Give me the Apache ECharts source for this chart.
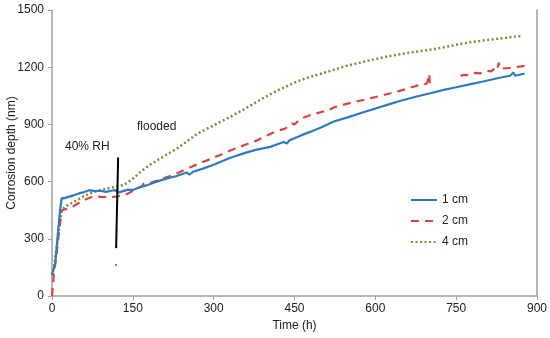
<!DOCTYPE html>
<html><head><meta charset="utf-8">
<script src="https://cdn.jsdelivr.net/npm/echarts@6/dist/echarts.min.js"></script>
<style>html,body{margin:0;padding:0;background:#fff}#c{width:550px;height:338px}</style>
</head><body><div id="c"></div>
<script>
const seriesNames = ['1 cm', '2 cm', '4 cm'];
const xTicks = [0, 150, 300, 450, 600, 750, 900];
const yTicks = [0, 300, 600, 900, 1200, 1500];

const t1 = [0,3,6,10,15,18,22,30,40,50,60,69,80,90,100,110,118,122,126,132,141,150,160,175,190,200,215,230,250,255,262,280,300,331,360,380,405,430,436,440,461,480,500,523,550,585,600,625,647,675,700,725,750,775,800,833,850,856,860,877];
const v1 = [110,140,170,300,450,514,512,520,528,538,545,555,550,552,546,552,555,541,545,550,558,556,568,580,595,605,618,628,648,636,652,668,688,725,752,768,782,808,800,815,841,862,885,915,938,970,983,1005,1024,1045,1062,1080,1095,1110,1125,1146,1155,1172,1155,1167];

const t2 = [0,3,6,10,14,18,25,33,45,58,70,77,90,100,110,120,130,141,152,163,168,170,180,200,225,250,275,300,331,360,380,405,420,430,440,445,450,461,480,500,511,523,550,585,610,647,677,690,696,700,701,705,730,758,765,775,785,795,808,815,822,826,829,832,845,860,877];
const v2 = [0,100,170,258,360,450,455,460,480,502,515,523,520,519,518,522,528,537,555,571,578,590,590,610,635,667,697,725,763,795,815,850,868,875,890,905,900,929,950,965,972,989,1010,1033,1050,1077,1103,1110,1115,1165,1120,1125,null,1155,1160,1158,1170,1168,1181,1178,1195,1185,1224,1192,1195,1200,1207];

const t3 = [0,5,10,14,18,25,40,60,77,100,120,133,140,150,164,180,200,230,250,269,300,331,360,393,420,455,480,517,550,585,620,660,708,740,771,800,830,850,873];
const v3 = [110,180,280,370,450,470,493,525,546,562,575,582,595,615,650,685,720,770,810,850,895,940,985,1040,1080,1125,1150,1181,1210,1233,1255,1275,1294,1312,1329,1340,1350,1357,1364];

const lineTop = [122.7, 726];
const lineBottom = [119, 251];
const dotPoint = [119, 162];

const pair = (t, v) => t.map((x, i) => [x, v[i]]);
const colors = ['#2e7bc0', '#d94545', '#76923c'];
const font = 'Liberation Sans, Arial, sans-serif';

const chart = echarts.init(document.getElementById('c'), null, {renderer: 'canvas'});
chart.setOption({
  animation: false,
  textStyle: {fontFamily: font},
  grid: {left: 52, right: 13, top: 10, bottom: 42, containLabel: false, outerBoundsMode: 'none'},
  xAxis: {
    type: 'value', min: 0, max: 900, interval: 150,
    name: 'Time (h)', nameLocation: 'middle', nameGap: 24, nameMoveOverlap: false,
    nameTextStyle: {color: '#222', fontSize: 12, fontFamily: font},
    axisLine: {lineStyle: {color: '#a0a0a0', width: 1.5}},
    axisTick: {show: true, inside: false, length: 4, lineStyle: {color: '#a0a0a0'}},
    axisLabel: {color: '#222', fontSize: 12, margin: 7, fontFamily: font, formatter: v => String(v)},
    splitLine: {show: false}
  },
  yAxis: [{
    type: 'value', min: 0, max: 1500, interval: 300,
    name: 'Corrosion depth (nm)', nameLocation: 'middle', nameGap: 34, nameMoveOverlap: false,
    nameTextStyle: {color: '#222', fontSize: 12, fontFamily: font},
    axisLine: {show: true, lineStyle: {color: '#a0a0a0', width: 1.5}},
    axisTick: {show: true, length: 4, lineStyle: {color: '#a0a0a0'}},
    axisLabel: {color: '#222', fontSize: 12, margin: 8, fontFamily: font, formatter: v => String(v)},
    splitLine: {show: false}
  }, {
    type: 'value', min: 0, max: 1500, position: 'right',
    axisLine: {show: true, lineStyle: {color: '#a0a0a0', width: 1.5}},
    axisTick: {show: false}, axisLabel: {show: false}, splitLine: {show: false}
  }],
  legend: {
    orient: 'vertical', left: 405, top: 189, itemGap: 9,
    itemWidth: 26, itemHeight: 14,
    itemStyle: {opacity: 0},
    textStyle: {color: '#222', fontSize: 12, fontFamily: font},
    data: seriesNames
  },
  graphic: [
    {type: 'text', left: 65, top: 141, style: {text: '40% RH', fill: '#222', font: '12px ' + font}},
    {type: 'text', left: 137, top: 121, style: {text: 'flooded', fill: '#222', font: '12px ' + font}}
  ],
  series: [
    {name: seriesNames[0], type: 'line', data: pair(t1, v1), showSymbol: false, symbol: 'none',
     lineStyle: {color: colors[0], width: 2.2}, itemStyle: {color: colors[0]}, z: 3,
     markLine: {silent: true, symbol: 'none', label: {show: false},
       lineStyle: {color: '#000', width: 2, type: 'solid'},
       data: [[{coord: lineTop}, {coord: lineBottom}]]},
     markPoint: {silent: true, symbol: 'circle', symbolSize: 2, label: {show: false},
       itemStyle: {color: '#555'}, data: [{coord: dotPoint}]}
    },
    {name: seriesNames[1], type: 'line', data: pair(t2, v2), showSymbol: false, symbol: 'none', connectNulls: false,
     lineStyle: {color: colors[1], width: 2.2, type: [8, 6]}, itemStyle: {color: colors[1]}, z: 2},
    {name: seriesNames[2], type: 'line', data: pair(t3, v3), showSymbol: false, symbol: 'none',
     lineStyle: {color: colors[2], width: 2.5, type: [2, 2.5]}, itemStyle: {color: colors[2]}, z: 1}
  ]
});
</script></body></html>
